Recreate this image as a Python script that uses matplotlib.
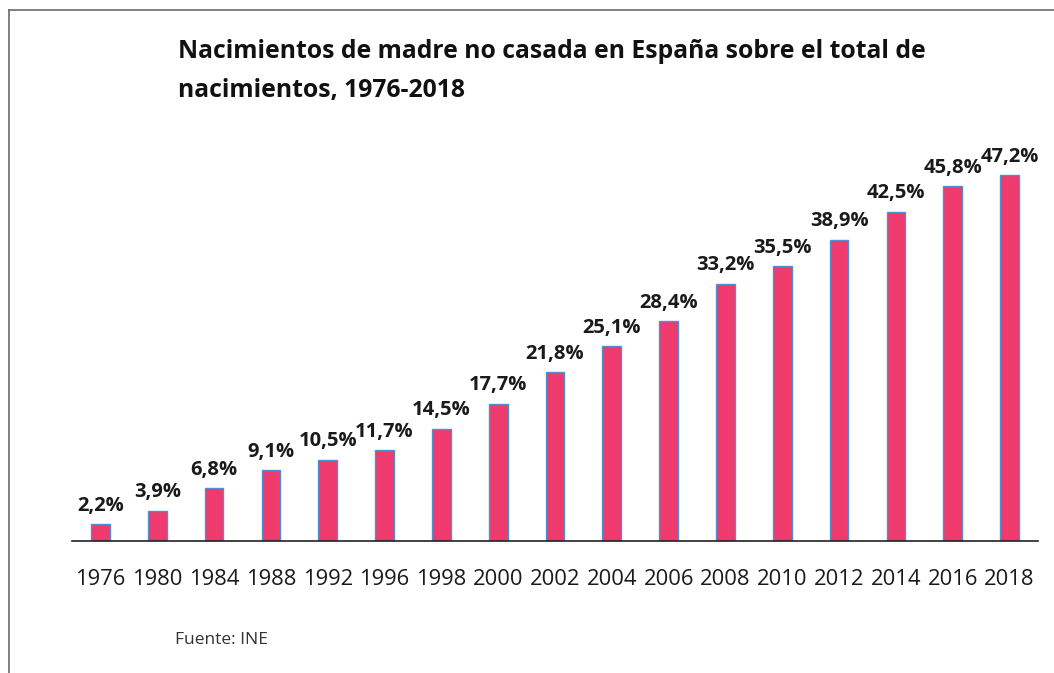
import matplotlib
matplotlib.use("Agg")
import matplotlib.pyplot as plt
from matplotlib.lines import Line2D

years = ["1976", "1980", "1984", "1988", "1992", "1996", "1998", "2000", "2002",
         "2004", "2006", "2008", "2010", "2012", "2014", "2016", "2018"]
values = [2.2, 3.9, 6.8, 9.1, 10.5, 11.7, 14.5, 17.7, 21.8,
          25.1, 28.4, 33.2, 35.5, 38.9, 42.5, 45.8, 47.2]
labels = ["2,2%", "3,9%", "6,8%", "9,1%", "10,5%", "11,7%", "14,5%", "17,7%", "21,8%",
          "25,1%", "28,4%", "33,2%", "35,5%", "38,9%", "42,5%", "45,8%", "47,2%"]

plt.rcParams['font.family'] = ['Open Sans', 'DejaVu Sans']

W, H = 1054, 673
fig = plt.figure(figsize=(W / 100, H / 100), dpi=100)
ax = fig.add_axes([72 / W, 1 - 541 / H, (1038 - 72) / W, (541 - 153.5) / H])

x = list(range(len(years)))
ax.bar(x, values, width=0.33, color="#EE3A6C", edgecolor="#4F8FD2", linewidth=1.0, zorder=2)
for xi, v, lab in zip(x, values, labels):
    ax.annotate(lab, (xi, v), xytext=(0, 6), textcoords="offset points",
                ha="center", va="bottom", fontsize=14.5, fontweight="bold",
                color="#1a1a1a", annotation_clip=False)

ax.set_xlim(-0.5, len(years) - 0.5)
ax.set_ylim(0, 50)
ax.set_xticks(x)
ax.set_xticklabels(years, fontsize=15.8, color="#1a1a1a")
ax.tick_params(axis="x", length=0, pad=20)
ax.set_yticks([])
for s in ["top", "right", "left"]:
    ax.spines[s].set_visible(False)
ax.spines["bottom"].set_color("#222222")
ax.spines["bottom"].set_linewidth(1.2)

fig.text(178 / W, 1 - 52 / H, "Nacimientos de madre no casada en España sobre el total de",
         fontsize=17.8, fontweight="bold", ha="left", va="center", color="#111111")
fig.text(178 / W, 1 - 90 / H, "nacimientos, 1976-2018",
         fontsize=17.8, fontweight="bold", ha="left", va="center", color="#111111")
fig.text(175 / W, 1 - 640 / H, "Fuente: INE", fontsize=12.5, ha="left", va="center", color="#333333")

# frame border (left and top edges visible)
fig.add_artist(Line2D([8.5 / W, 8.5 / W], [0, 1 - 9.5 / H], transform=fig.transFigure,
                      color="#6b6b6b", linewidth=1.2))
fig.add_artist(Line2D([8.5 / W, 1], [1 - 9.5 / H, 1 - 9.5 / H], transform=fig.transFigure,
                      color="#6b6b6b", linewidth=1.2))

fig.savefig("out.png", dpi=100)
